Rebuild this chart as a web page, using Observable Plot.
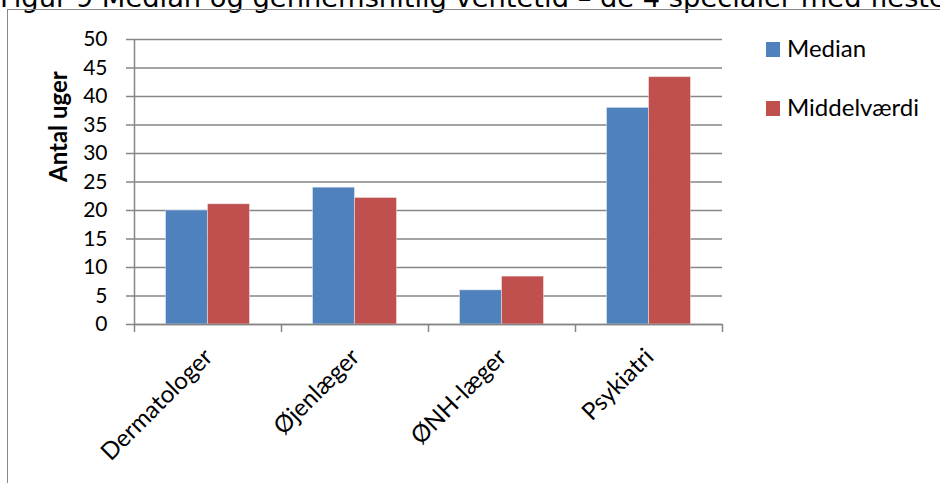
<!DOCTYPE html>
<html>
<head>
<meta charset="utf-8">
<script src="https://cdn.jsdelivr.net/npm/d3@7"></script>
<script src="https://cdn.jsdelivr.net/npm/@observablehq/plot@0.6"></script>
<style>
  body { margin: 0; background: #fff; }
  #wrap { position: relative; width: 940px; height: 483px; overflow: hidden; background: #fff; }
  #title { position: absolute; left: 0px; top: -16.4px; font-family: "DejaVu Sans", sans-serif; font-size: 27.3px; line-height: 27px; white-space: nowrap; color: #000; }
  #box { position: absolute; left: 7px; top: 9px; width: 1200px; height: 1200px; border-left: 1.5px solid #898989; border-top: 1.5px solid #898989; }
  #chart { position: absolute; left: 0; top: 0; }
  .leg { position: absolute; font-family: Lato, sans-serif; font-size: 24px; line-height: 24px; color: #000; white-space: nowrap; }
  .sw { position: absolute; width: 14px; height: 15px; }
</style>
</head>
<body>
<div id="wrap">
  <div id="title">Figur 9 Median og gennemsnitlig ventetid – de 4 specialer med fleste</div>
  <div id="box"></div>
  <div id="chart"></div>
  <div id="legend"></div>
</div>
<script>
const categories = ["Dermatologer", "Øjenlæger", "ØNH-læger", "Psykiatri"];
const median = [20, 24, 6, 38];
const middelvaerdi = [21.1, 22.2, 8.4, 43.4];
const series = ["Median", "Middelværdi"];
const colors = ["#4F81BD", "#C0504D"];
const yTicks = [0, 5, 10, 15, 20, 25, 30, 35, 40, 45, 50];

// Excel-style clustered columns: gap width 150% of one bar
const gapWidth = 1.5;
const barW = 1 / (series.length + gapWidth);
const values = [median, middelvaerdi];
const table = categories.flatMap((c, i) =>
  series.map((s, k) => ({category: c, i, series: s, k, value: values[k][i]}))
);

const axisGray = "#868686";

const chart = Plot.plot({
  width: 940,
  height: 483,
  marginLeft: 134,
  marginRight: 218,
  marginTop: 39,
  marginBottom: 159,
  style: {background: "none", fontFamily: "Lato, sans-serif", overflow: "visible"},
  x: {domain: [0, categories.length], axis: null},
  y: {domain: [0, 50], axis: null},
  color: {domain: series, range: colors},
  marks: [
    Plot.ruleY(yTicks, {stroke: axisGray, strokeWidth: 1.5}),
    Plot.rectY(table, {
      x1: d => d.i + (gapWidth * barW) / 2 + d.k * barW,
      x2: d => d.i + (gapWidth * barW) / 2 + (d.k + 1) * barW,
      y1: 0,
      y2: "value",
      fill: "series",
      stroke: "white",
      strokeOpacity: 0.4,
      strokeWidth: 1
    }),
    Plot.ruleX([0], {stroke: axisGray, strokeWidth: 1.5}),
    Plot.ruleY([0], {stroke: axisGray, strokeWidth: 1.5}),
    Plot.axisY({ticks: yTicks, tickSize: 8, tickFormat: () => "", stroke: axisGray, strokeWidth: 1.5, label: null}),
    Plot.axisY({ticks: yTicks, tickSize: 0, tickPadding: 27, fontSize: 21, fill: "black", label: null}),
    Plot.axisX({ticks: d3.range(categories.length + 1), tickSize: 8, tickFormat: () => "", stroke: axisGray, strokeWidth: 1.5, label: null}),
    Plot.text(categories, {
      x: (d, i) => i + 0.5,
      y: () => 0,
      text: d => d,
      rotate: -45,
      textAnchor: "end",
      lineAnchor: "bottom",
      dx: 6,
      dy: 34,
      fontSize: 24,
      fill: "black"
    }),
    Plot.text(["Antal uger"], {
      frameAnchor: "left",
      dx: -75,
      rotate: -90,
      text: d => d,
      fontSize: 24,
      fontWeight: "bold",
      fill: "black"
    })
  ]
});
document.getElementById("chart").appendChild(chart);

// Legend (to the right of the plot)
const legend = document.getElementById("legend");
const legTops = [36, 94.7];
const swTops = [42, 101];
series.forEach((s, k) => {
  const sw = document.createElement("div");
  sw.className = "sw";
  sw.style.left = "766px";
  sw.style.top = swTops[k] + "px";
  sw.style.background = colors[k];
  legend.appendChild(sw);
  const t = document.createElement("div");
  t.className = "leg";
  t.style.left = "787px";
  t.style.top = legTops[k] + "px";
  t.textContent = s;
  legend.appendChild(t);
});
</script>
</body>
</html>
